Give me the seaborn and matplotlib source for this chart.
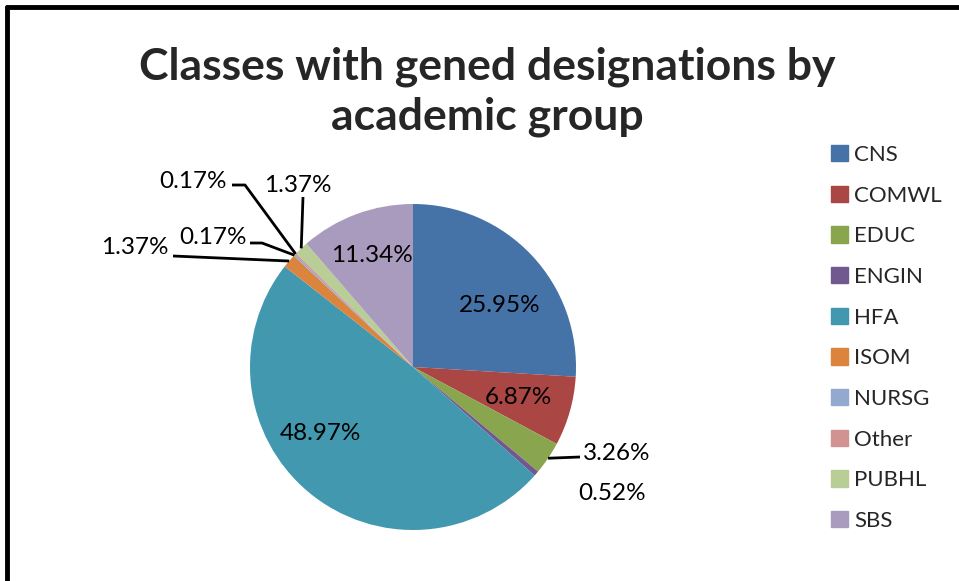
import numpy as np
import matplotlib
matplotlib.use("Agg")
import matplotlib.pyplot as plt
import seaborn as sns

groups = ["CNS", "COMWL", "EDUC", "ENGIN", "HFA", "ISOM", "NURSG", "Other", "PUBHL", "SBS"]
shares = [25.95, 6.87, 3.26, 0.52, 48.97, 1.37, 0.17, 0.17, 1.37, 11.34]
colors = ["#4572A7", "#AA4643", "#89A54E", "#71588F", "#4198AF",
          "#DB843D", "#93A9CF", "#D19392", "#B9CD96", "#A99BBD"]
title = "Classes with gened designations by\nacademic group"

sns.set_theme(style="white")
plt.rcParams['font.family'] = ['Lato', 'DejaVu Sans']

W, H = 959, 581
fig = plt.figure(figsize=(W / 100, H / 100), dpi=100)
ax = fig.add_axes([0, 0, 1, 1])

def px(x, y):
    # pixel coords (top-left origin) -> axes data coords
    return x, H - y

cx, cy = px(413, 367)
R = 163
wedges, _ = ax.pie(shares, colors=colors, center=(cx, cy), radius=R,
                   startangle=90, counterclock=False,
                   wedgeprops=dict(linewidth=0), frame=True)
ax.set_xlim(0, W)
ax.set_ylim(0, H)
ax.set_aspect("equal")
ax.axis("off")

# label centres in pixel coords
label_pos = {
    "CNS": (500, 305), "COMWL": (518, 397), "EDUC": (617, 453),
    "ENGIN": (612, 494), "HFA": (320, 433), "ISOM": (135, 247),
    "NURSG": (213, 237), "Other": (193, 181), "PUBHL": (298, 186),
    "SBS": (372, 256),
}
leaders = {
    "EDUC": [(580, 457)],
    "ISOM": [(173, 256)],
    "NURSG": [(262, 243), (250, 243)],
    "Other": [(245, 185), (232, 185)],
    "PUBHL": [(303, 197)],
}

for w, g, s in zip(wedges, groups, shares):
    tx, ty = px(*label_pos[g])
    ax.text(tx, ty, f"{s:.2f}%", ha="center", va="center", fontsize=17.5, color="black")
    if g in leaders:
        mid = np.deg2rad((w.theta1 + w.theta2) / 2)
        sx, sy = cx + R * np.cos(mid), cy + R * np.sin(mid)
        pts = [(sx, sy)] + [px(*p) for p in leaders[g]]
        xs, ys = zip(*pts)
        ax.plot(xs, ys, color="black", lw=2, solid_capstyle="butt")

fig.text(487 / W, 1 - 92 / H, title, ha="center", va="center",
         fontsize=32, fontweight="bold", linespacing=1.3)

handles = [plt.Rectangle((0, 0), 1, 1, color=c) for c in colors]
leg = fig.legend(handles, groups, loc="upper left", bbox_to_anchor=(822 / W, 1 - 136 / H),
                 frameon=False, fontsize=16, handlelength=0.75, handleheight=0.75,
                 handletextpad=0.3, labelspacing=0.93, borderaxespad=0)

# frame lines on top and left, like the cropped chart area
fig.add_artist(plt.Line2D([7 / W, 1], [1 - 7 / H, 1 - 7 / H], color="black", lw=3.5,
                          transform=fig.transFigure))
fig.add_artist(plt.Line2D([7 / W, 7 / W], [0, 1 - 7 / H], color="black", lw=3.5,
                          transform=fig.transFigure))

fig.savefig("out.png", dpi=100, facecolor="white")
